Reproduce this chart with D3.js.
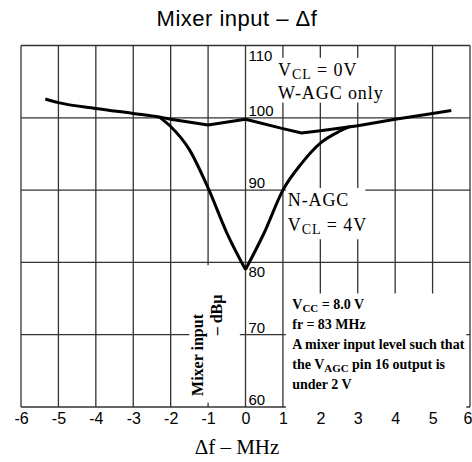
<!DOCTYPE html>
<html><head><meta charset="utf-8">
<script src="https://cdn.jsdelivr.net/npm/d3@7"></script>
<style>body{margin:0;background:#fff}svg{display:block}</style>
</head><body><svg id="c" width="472" height="462"></svg>
<script>
// ---- data ----
const title = "Mixer input – Δf";
const xTitle = "Δf – MHz";
const xTickValues = [-6,-5,-4,-3,-2,-1,0,1,2,3,4,5,6];
const yTickValues = [60,70,80,90,100,110];
const wagcDf    = [-5.35,-5,-4,-3,-2.3,-2,-1,0,1,1.5,2,3,4,5,5.5];
const wagcLevel = [102.6,102.1,101.3,100.6,100.1,99.8,99.0,99.8,98.5,97.9,98.2,98.9,99.8,100.6,101.0];
const nagcDf    = [-2.3,-2,-1.5,-1,-0.5,0,0.5,1,1.5,2,2.5,2.8];
const nagcLevel = [100.1,98.8,95.6,90.3,84.1,79,84.1,90.0,93.7,96.5,98.1,98.8];
const wagcLabel = ["V{CL} = 0V", "W-AGC only"];
const nagcLabel = ["N-AGC", "V{CL} = 4V"];
const yUnitLabel = ["Mixer input", "– dBμ"];
const noteLines = ["V{CC} = 8.0 V", "fr = 83 MHz", "A mixer input level such that", "the V{AGC} pin 16 output is", "under 2 V"];

// ---- chart ----
const svg = d3.select("#c");
const x = d3.scaleLinear().domain([-6,6]).range([21,470]);
const y = d3.scaleLinear().domain([60,110]).range([407,45.5]);
const gridColor = "#333";

svg.append("text").attr("x",237).attr("y",26).attr("text-anchor","middle")
  .attr("font-family","Liberation Sans, Arial, sans-serif").attr("font-size",22)
  .attr("letter-spacing",0.5)
  .text(title);

// grid
const g = svg.append("g");
g.selectAll("line.v").data(xTickValues).join("line").attr("class","v")
  .attr("x1",d=>x(d)).attr("x2",d=>x(d)).attr("y1",y(60)).attr("y2",y(110))
  .attr("stroke",gridColor).attr("stroke-width",1.3);
g.selectAll("line.h").data(yTickValues).join("line").attr("class","h")
  .attr("y1",d=>y(d)).attr("y2",d=>y(d)).attr("x1",x(-6)).attr("x2",x(6))
  .attr("stroke",gridColor).attr("stroke-width",1.3);

// white masks behind annotations
const masks = [
  [x(0.84), y(108.3), x(3.9)-x(0.84), y(102.1)-y(108.3)],
  [x(1.08), y(90.3), x(3.2)-x(1.08), y(83.2)-y(90.3)],
  [x(-1.5), y(79.6), x(-0.15)-x(-1.5), y(60.6)-y(79.6)],
  [x(1.08), y(75.7), x(5.9)-x(1.08), y(59.6)-y(75.7)]
];
svg.selectAll("rect.m").data(masks).join("rect").attr("class","m")
  .attr("x",d=>d[0]).attr("y",d=>d[1]).attr("width",d=>d[2]).attr("height",d=>d[3])
  .attr("fill","#fff");

// x axis labels
const xAxis = d3.axisBottom(x).tickValues(xTickValues).tickSize(0).tickPadding(6)
  .tickFormat(d => d < 0 ? "-" + Math.abs(d) : String(d));
const xa = svg.append("g").attr("transform",`translate(0,${y(60)})`).call(xAxis);
xa.select(".domain").remove();
xa.selectAll("text").attr("font-family","Liberation Sans, Arial, sans-serif").attr("font-size",16).attr("fill","#000");
xa.selectAll(".tick").filter(d => d === 6).select("text").attr("text-anchor","end").attr("x",2);

// y tick labels (inside, beside the 0 line)
svg.selectAll("text.yt").data(yTickValues).join("text").attr("class","yt")
  .attr("x",x(0)+3)
  .attr("y",d => (d===110 || d===80) ? y(d)+15 : y(d)-2)
  .attr("font-family","Liberation Sans, Arial, sans-serif").attr("font-size",15)
  .text(d=>d);

// curves
const line = d3.line().x(d=>x(d[0])).y(d=>y(d[1]));
const wagc = wagcDf.map((d,i)=>[d,wagcLevel[i]]);
const nagc = nagcDf.map((d,i)=>[d,nagcLevel[i]]);
const iMin = d3.minIndex(nagcLevel);
svg.append("path").attr("d", line.curve(d3.curveMonotoneX)(wagc.slice(0,6)) )
  .attr("fill","none").attr("stroke","#000").attr("stroke-width",3);
svg.append("path").attr("d", line.curve(d3.curveLinear)(wagc.slice(5)))
  .attr("fill","none").attr("stroke","#000").attr("stroke-width",3).attr("stroke-linejoin","round");
[nagc.slice(0,iMin+1), nagc.slice(iMin)].forEach(seg=>{
  svg.append("path").attr("d", line.curve(d3.curveMonotoneX)(seg))
    .attr("fill","none").attr("stroke","#000").attr("stroke-width",3).attr("stroke-linejoin","miter");
});

// rich text helper: {..} = subscript
function rich(sel, str, subShift){
  const parts = str.split(/(\{[^}]*\})/).filter(s=>s.length);
  let shifted = false;
  parts.forEach(p=>{
    if (p.startsWith("{")) {
      sel.append("tspan").attr("dy",subShift).attr("font-size","78%").text(p.slice(1,-1));
      shifted = true;
    } else {
      const t = sel.append("tspan").text(p);
      if (shifted) { t.attr("dy",-subShift); shifted = false; }
    }
  });
}
const serif = "Liberation Serif, Times New Roman, serif";
function label(lines, x0, y0, lh, size, weight, ls){
  lines.forEach((s,i)=>{
    const t = svg.append("text").attr("x",x0).attr("y",y0+i*lh)
      .attr("font-family",serif).attr("font-size",size).attr("font-weight",weight)
      .attr("letter-spacing",ls);
    rich(t, s, 3);
  });
}
label(wagcLabel, x(0.87), y(105.8), 23, 18, "normal", 0.9);
label(nagcLabel, x(1.13), y(87.8), 25, 18, "normal", 0.9);
label(noteLines, x(1.25), y(73.6), 20.2, 14, "bold", 0);

// rotated unit label
yUnitLabel.forEach((s,i)=>{
  svg.append("text").attr("transform",`translate(${i===0?203:222},${i===0?355:315}) rotate(-90)`)
    .attr("text-anchor","middle").attr("font-family",serif).attr("font-size",16).attr("font-weight","bold")
    .text(s);
});

svg.append("text").attr("x",237).attr("y",454).attr("text-anchor","middle")
  .attr("font-family",serif).attr("font-size",21).text(xTitle);
</script></body></html>
